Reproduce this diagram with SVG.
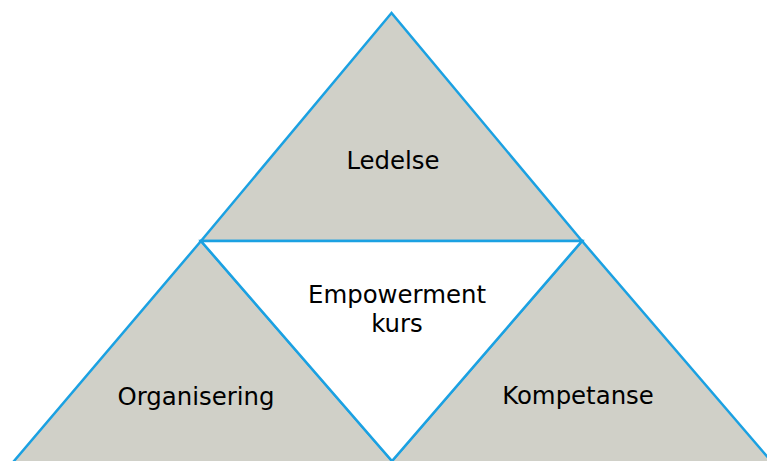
<svg xmlns="http://www.w3.org/2000/svg" width="767" height="461" viewBox="0 0 767 461">
<style>
.tri{fill:#D0D0C8;stroke:#1BA1E2;stroke-width:2.5;stroke-linejoin:miter}
.inner{fill:#FFFFFF;stroke:#1BA1E2;stroke-width:2.5}
.lbl{font-family:"DejaVu Sans",Verdana,sans-serif;font-size:24.4px;fill:#000000;text-anchor:middle}
</style>
<rect width="767" height="461" fill="#FFFFFF"/>
<g id="ledelse">
<polygon class="tri" points="391.5,13 201,241 582,241"/>
<text class="lbl" x="393" y="169">Ledelse</text>
</g>
<g id="organisering">
<polygon class="tri" points="201,241 6.4,470 399.8,470"/>
<text class="lbl" x="196" y="405">Organisering</text>
</g>
<g id="kompetanse">
<polygon class="tri" points="582,241 384.2,470 778.7,470"/>
<text class="lbl" x="578" y="404">Kompetanse</text>
</g>
<g id="empowerment">
<polygon class="inner" points="201,241 582,241 392,461"/>
<text class="lbl" x="397" y="303">Empowerment</text>
<text class="lbl" x="397" y="332">kurs</text>
</g>
<g id="connectors"></g>
</svg>
